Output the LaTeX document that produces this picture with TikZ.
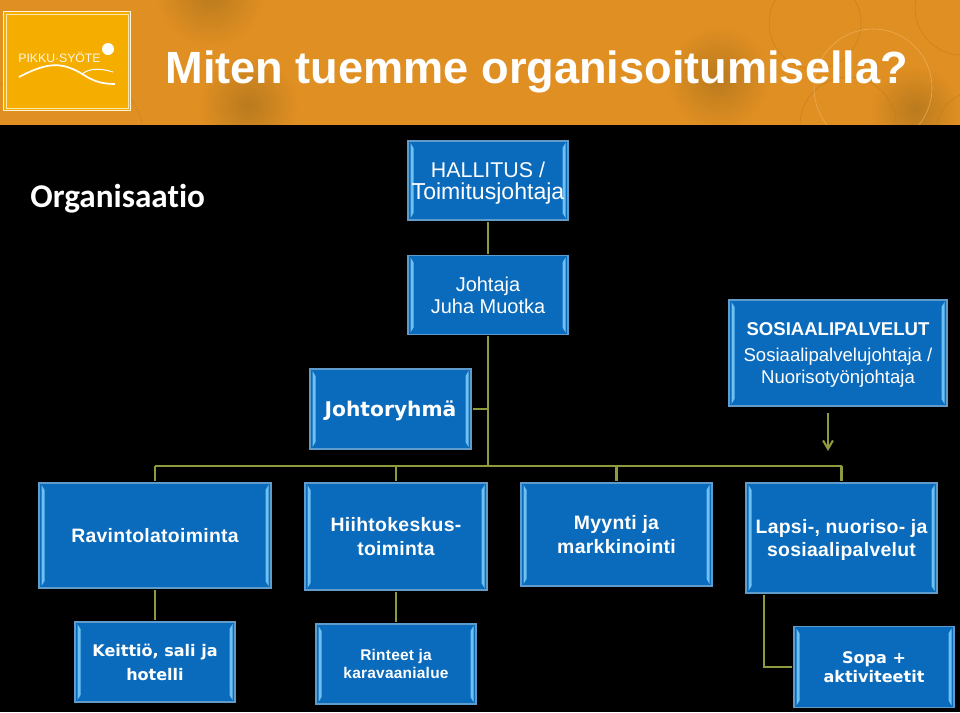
\documentclass[tikz,border=0pt]{standalone}
\usepackage{fontspec}
\setmainfont{Liberation Sans}
\newfontfamily\carlitofont[Ligatures=NoCommon]{Carlito}
\newfontfamily\dejafont{DejaVu Sans}
\newfontfamily\widefont[LetterSpace=1.5]{Liberation Sans}
\usetikzlibrary{arrows.meta,calc,shadings}

\definecolor{headerorange}{HTML}{E08F22}
\definecolor{logogold}{HTML}{F5AD00}
\definecolor{boxblue}{HTML}{0A6ABB}
\definecolor{boxedge}{HTML}{5F9CCB}
\definecolor{stripblue}{HTML}{6DC1F2}
\definecolor{lineolive}{HTML}{8F9A3C}
\definecolor{ringdark}{HTML}{B97A1E}
\definecolor{ringlight}{HTML}{EFB565}

\tikzset{
	boxsize/.style 2 args={minimum width=#1*0.025cm, minimum height=#2*0.025cm},
	orgbox/.style={draw=boxedge, line width=1.3pt, fill=boxblue, text=white, align=center, inner sep=0pt, outer sep=1.4pt, text depth=0pt,
		path picture={
			\fill[stripblue] ($(path picture bounding box.north west)+(2.5,2)$) -- ($(path picture bounding box.north west)+(5.5,7)$)
				-- ($(path picture bounding box.south west)+(5.5,-7)$) -- ($(path picture bounding box.south west)+(2.5,-2)$) -- cycle;
			\fill[stripblue] ($(path picture bounding box.north east)+(-2.5,2)$) -- ($(path picture bounding box.north east)+(-5.5,7)$)
				-- ($(path picture bounding box.south east)+(-5.5,-7)$) -- ($(path picture bounding box.south east)+(-2.5,-2)$) -- cycle;
		}},
	plainbox/.style={orgbox, font=\fontsize{14.2}{15.6}\selectfont},
	boldbox/.style={orgbox, font=\fontsize{13.8}{16.5}\bfseries\widefont\selectfont},
	smallbox/.style={orgbox, font=\fontsize{11.4}{13}\bfseries\dejafont\selectfont},
	link/.style={draw=lineolive, line width=1.5pt},
	blur/.style={inner color=ringdark, outer color=headerorange},
}

\begin{document}
\begin{tikzpicture}[x=0.025cm, y=-0.025cm]
	\useasboundingbox (0, 0) rectangle (960, 712);

	% header
	\begin{scope}
		\clip (0, 0) rectangle (960, 125);
		\fill[headerorange] (0, 0) rectangle (960, 125);
		\shade[blur] (718, 78) circle (52);
		\shade[blur] (210, -8) circle (55);
		\shade[blur] (248, 105) circle (50);
		\shade[blur] (915, 110) circle (45);
		\draw[ringdark, opacity=0.6, thin] (815, 23) circle (46);
		\draw[ringdark, opacity=0.6, thin] (848, 125) circle (48);
		\draw[ringdark, opacity=0.6, thin] (962, 8) circle (47);
		\draw[ringdark, opacity=0.6, thin] (975, 130) circle (38);
		\draw[ringdark, opacity=0.4, thin] (60, 145) circle (85);
		\draw[ringlight, opacity=0.8, thin] (873, 88) circle (59);
	\end{scope}
	\fill[black] (0, 125) rectangle (960, 712);

	% logo
	\fill[logogold] (3, 11) rectangle (131, 111);
	\draw[white!85!logogold, line width=0.7pt] (3.5, 11.5) rectangle (130.5, 110.5);
	\draw[white!70!logogold, line width=0.4pt] (6, 14) rectangle (128, 108);
	\fill[white] (108, 49) circle (6);
	\node[text=white!90!logogold, font=\fontsize{8.7}{10}\selectfont] (logotext) at (59.5, 57) {PIKKU·SYÖTE};
	\draw[white, line width=1.2pt] (19, 77) .. controls (40, 66) and (55, 62) .. (70, 68) .. controls (85, 73) and (90, 84) .. (115, 84);
	\draw[white, line width=0.7pt] (82, 74) .. controls (90, 68) and (100, 68) .. (113, 72);

	\node[text=white, anchor=west, font=\fontsize{32.1}{36}\bfseries\selectfont] (title) at (160.5, 72) {Miten tuemme organisoitumisella?};
	\node[text=white, anchor=west, font=\fontsize{23.6}{26}\bfseries\carlitofont\selectfont] (orglabel) at (25.5, 199) {Organisaatio};

	% boxes
	\node[plainbox, boxsize={160}{79}] (hallitus) at (488, 180.5) {{\fontsize{15.2}{15.6}\selectfont HALLITUS /}\\{\fontsize{16.4}{15.6}\selectfont Toimitusjohtaja}};
	\node[plainbox, boxsize={160}{79}] (johtaja) at (488, 295) {Johtaja\\Juha Muotka};
	\node[orgbox, boxsize={161}{80}, font=\fontsize{14.4}{16}\bfseries\dejafont\selectfont] (johtoryhma) at (390.5, 409) {Johtoryhmä};
	\node[orgbox, boxsize={218}{106}, font=\fontsize{13.2}{15.2}\selectfont] (sosiaali) at (838, 353) {\textbf{SOSIAALIPALVELUT}\\[3.5pt]Sosiaalipalvelujohtaja /\\Nuorisotyönjohtaja};

	\node[boldbox, boxsize={232}{105}] (ravintola) at (155, 535.5) {Ravintolatoiminta};
	\node[boldbox, boxsize={182}{107}] (hiihto) at (396, 536.5) {Hiihtokeskus-\\toiminta};
	\node[boldbox, boxsize={191}{103}] (myynti) at (616.5, 534.5) {Myynti ja\\markkinointi};
	\node[boldbox, boxsize={191}{110}] (lapsi) at (841.5, 538) {Lapsi-, nuoriso- ja\\sosiaalipalvelut};

	\node[smallbox, boxsize={160}{80}, font=\fontsize{11.4}{17}\bfseries\dejafont\selectfont] (keittio) at (155, 662) {Keittiö, sali ja\\hotelli};
	\node[orgbox, boxsize={160}{80}, font=\fontsize{11}{13}\bfseries\widefont\selectfont] (rinteet) at (396, 664) {Rinteet ja\\karavaanialue};
	\node[smallbox, boxsize={160}{81}] (sopa) at (874, 667) {Sopa +\\aktiviteetit};

	% connectors
	\coordinate (bus) at (488, 466);
	\coordinate (lapsibend) at (764, 667);
	\coordinate (arrowend) at (828, 451);

	\draw[link] (hallitus) -- (johtaja);
	\draw[link] (johtaja) -- (bus);
	\draw[link] (johtoryhma) -- (johtoryhma -| bus);
	\draw[link] (ravintola |- bus) -- (lapsi |- bus);
	\draw[link] (ravintola |- bus) -- (ravintola);
	\draw[link] (hiihto |- bus) -- (hiihto);
	\draw[link] (myynti |- bus) -- (myynti);
	\draw[link] (lapsi |- bus) -- (lapsi);
	\draw[link, -{Straight Barb[length=6pt, width=7pt]}] (sosiaali.south -| arrowend) ++(0, 5) -- (arrowend);
	\draw[link] (ravintola) -- (keittio);
	\draw[link] (hiihto) -- (rinteet);
	\draw[link] (lapsi.south -| lapsibend) -- (lapsibend) -- (sopa);
\end{tikzpicture}
\end{document}
